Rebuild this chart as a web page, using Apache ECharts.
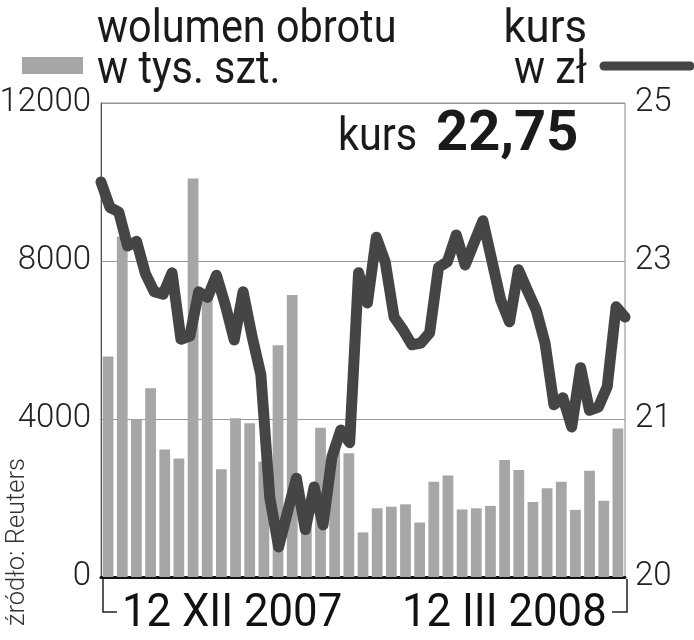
<!DOCTYPE html>
<html>
<head>
<meta charset="utf-8">
<script src="https://cdn.jsdelivr.net/npm/echarts@6/dist/echarts.min.js"></script>
<style>
html,body{margin:0;padding:0;background:#fff;}
#c{width:694px;height:640px;}
</style>
</head>
<body>
<div id="c"></div>
<script>
// ---- data ----
const volumeCategories = Array.from({length: 37}, (_, i) => 'w' + (i + 1));
const volume = [5580, 8620, 4000, 4780, 3230, 3000, 10090, 7060, 2730, 4020, 3890, 2920, 5870, 7140, 1600, 3780, 3300, 3130, 1130, 1740, 1780, 1840, 1380, 2410, 2570, 1710, 1740, 1800, 2960, 2710, 1900, 2250, 2410, 1700, 2690, 1930, 3760];
const priceCategories = Array.from({length: 60}, (_, i) => 'd' + (i + 1));
const price = [24.00, 23.68, 23.62, 23.19, 23.25, 22.84, 22.61, 22.58, 22.85, 22.01,
               22.05, 22.61, 22.54, 22.82, 22.44, 22.00, 22.61, 22.05, 21.56, 20.01,
               19.38, 19.82, 20.25, 19.60, 20.14, 19.66, 20.52, 20.86, 20.70, 22.85,
               22.47, 23.30, 22.99, 22.29, 22.13, 21.94, 21.96, 22.09, 22.92, 22.99,
               23.33, 22.95, 23.23, 23.51, 23.01, 22.51, 22.23, 22.89, 22.63, 22.38,
               21.96, 21.18, 21.27, 20.90, 21.65, 21.11, 21.15, 21.41, 22.42, 22.29];
const leftTicks = [0, 4000, 8000, 12000];
const rightTickValues = [19, 21, 23, 25];
const rightTickText = ['20', '21', '23', '25'];
const dateLabels = ['12 XII 2007', '12 III 2008'];
const legendVolume = ['wolumen obrotu', 'w tys. szt.'];
const legendPrice = ['kurs', 'w zł'];
const lastPriceLabel = 'kurs';
const lastPriceValue = '22,75';
const sourceLabel = 'źródło: Reuters';

const FONT = 'Roboto, "Liberation Sans", sans-serif';
const chart = echarts.init(document.getElementById('c'));

function condensedText(opts, sx) {
  const o = Object.assign({type: 'text', scaleX: sx || 0.9, scaleY: 1}, opts);
  o.style = Object.assign({textVerticalAlign: 'top'}, opts.style);
  return o;
}

chart.setOption({
  animation: false,
  backgroundColor: '#fff',
  grid: {left: 101, right: 69, top: 103, bottom: 63, outerBoundsMode: 'none', containLabel: false,
         show: true, borderColor: '#8a8a8a', borderWidth: 1, backgroundColor: 'transparent'},
  xAxis: [
    {type: 'category', data: volumeCategories, boundaryGap: true,
     axisLine: {show: true, onZero: false, lineStyle: {color: '#111', width: 3}},
     axisTick: {show: false}, axisLabel: {show: false}, splitLine: {show: false}},
    {type: 'category', data: priceCategories, boundaryGap: false, show: false}
  ],
  yAxis: [
    {type: 'value', min: leftTicks[0], max: leftTicks[leftTicks.length - 1], interval: 4000,
     axisLine: {show: true, lineStyle: {color: '#555', width: 1}},
     axisTick: {show: false},
     axisLabel: {color: '#222', fontFamily: FONT, fontSize: 33, fontWeight: 300, margin: 10,
       formatter: v => String(v)},
     splitLine: {show: true, lineStyle: {color: '#999', width: 1}}},
    {type: 'value', min: rightTickValues[0], max: rightTickValues[rightTickValues.length - 1], interval: 2,
     position: 'right',
     axisLine: {show: false}, axisTick: {show: false},
     axisLabel: {color: '#222', fontFamily: FONT, fontSize: 33, fontWeight: 300, margin: 10,
       formatter: v => { const k = rightTickValues.indexOf(v); return k >= 0 ? rightTickText[k] : ''; }},
     splitLine: {show: false}}
  ],
  series: [
    {type: 'bar', xAxisIndex: 0, yAxisIndex: 0, data: volume, barWidth: '76%',
     itemStyle: {color: '#a6a6a6'}, z: 2},
    {type: 'line', xAxisIndex: 1, yAxisIndex: 1, data: price, symbol: 'none',
     lineStyle: {color: '#454545', width: 11, join: 'round', cap: 'round'}, z: 3}
  ],
  graphic: [
    // legend: volume
    {type: 'rect', shape: {x: 22, y: 57, width: 61, height: 17}, style: {fill: '#a6a6a6'}},
    condensedText({x: 97, y: 7, style: {text: legendVolume[0], font: '46px ' + FONT, fill: '#1a1a1a'}}),
    condensedText({x: 97, y: 48, style: {text: legendVolume[1], font: '46px ' + FONT, fill: '#1a1a1a'}}),
    // legend: price
    condensedText({x: 587, y: 7, style: {text: legendPrice[0], font: '46px ' + FONT, fill: '#1a1a1a', textAlign: 'right'}}, 0.95),
    condensedText({x: 587, y: 48, style: {text: legendPrice[1], font: '46px ' + FONT, fill: '#1a1a1a', textAlign: 'right'}}),
    {type: 'line', shape: {x1: 604, y1: 66, x2: 690, y2: 66}, style: {stroke: '#454545', lineWidth: 9, lineCap: 'round'}},
    // last price
    condensedText({x: 338, y: 115, style: {text: lastPriceLabel, font: '46px ' + FONT, fill: '#1a1a1a'}}),
    {type: 'text', x: 436, y: 108, style: {text: lastPriceValue, font: 'bold 56px ' + FONT, fill: '#1a1a1a', textVerticalAlign: 'top'}},
    // source
    {type: 'text', x: 31, y: 626, rotation: Math.PI / 2, style: {text: sourceLabel, font: '300 25.5px ' + FONT, fill: '#333', textAlign: 'left', textVerticalAlign: 'bottom'}},
    // date bracket
    {type: 'polyline', shape: {points: [[103, 579], [103, 612], [117, 612]]}, style: {stroke: '#222', lineWidth: 1.5, fill: null}},
    {type: 'polyline', shape: {points: [[627, 579], [627, 612], [612, 612]]}, style: {stroke: '#222', lineWidth: 1.5, fill: null}},
    condensedText({x: 122, y: 591, style: {text: dateLabels[0], font: '46px ' + FONT, fill: '#111'}}, 0.95),
    condensedText({x: 402, y: 591, style: {text: dateLabels[1], font: '46px ' + FONT, fill: '#111'}}, 0.95)
  ]
});
</script>
</body>
</html>
